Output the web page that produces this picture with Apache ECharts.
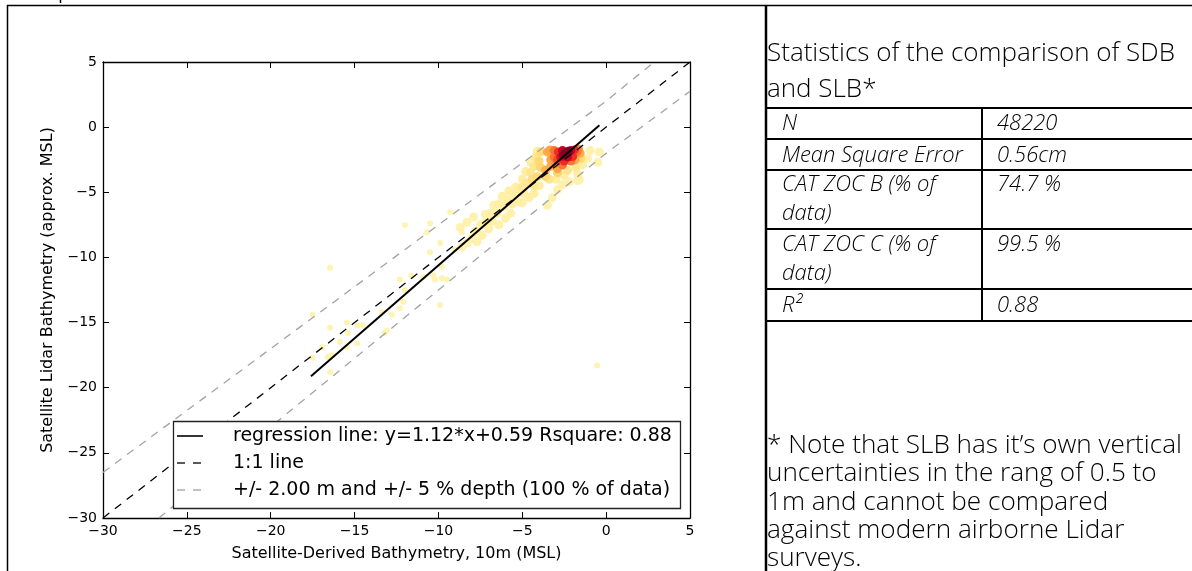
<!DOCTYPE html>
<html><head><meta charset="utf-8">
<script src="https://cdn.jsdelivr.net/npm/echarts@6/dist/echarts.min.js"></script>
<style>html,body{margin:0;padding:0;background:#fff;}#c{width:1192px;height:571px;}</style>
</head><body><div id="c"></div>
<script>
// ---------- data ----------
const xTicks = [-30, -25, -20, -15, -10, -5, 0, 5];
const yTicks = [-30, -25, -20, -15, -10, -5, 0, 5];
const xAxisTitle = 'Satellite-Derived Bathymetry, 10m (MSL)';
const yAxisTitle = 'Satellite Lidar Bathymetry (approx. MSL)';
const legendNames = ['regression line: y=1.12*x+0.59 Rsquare: 0.88', '1:1 line', '+/- 2.00 m and +/- 5 % depth (100 % of data)'];
const regressionLine = [[-17.6, -19.12], [-0.4, 0.14]];
const oneToOneLine = [[-30, -30], [5, 5]];
const upperBound = [[-30, -26.5], [0, 2], [2.86, 5]];
const lowerBound = [[-26.67, -30], [0, -2], [5, 2.75]];
// [x, y, relative density]
const densityCore = [
  [-2.4,-2.0,1.0],[-2.25,-1.85,1.0],[-2.55,-2.15,0.95],
  [-2.1,-1.8,0.85],[-2.6,-1.8,0.85],[-2.7,-2.3,0.8],[-2.3,-2.3,0.85],
  [-1.9,-1.75,0.7],[-2.85,-1.9,0.7],[-2.9,-2.5,0.65],[-2.5,-2.6,0.7],[-2.0,-2.25,0.7],
  [-1.75,-1.9,0.55],[-3.1,-1.8,0.55],[-3.1,-2.3,0.55],[-3.0,-2.8,0.5],[-2.6,-2.9,0.55],[-2.1,-2.6,0.55],[-1.65,-1.7,0.5],
  [-3.35,-1.75,0.42],[-3.3,-2.5,0.42],[-3.3,-3.0,0.4],[-2.9,-3.2,0.42],[-1.85,-2.5,0.4],[-1.55,-2.0,0.4],[-3.6,-3.3,0.38],[-3.5,-1.9,0.4]
];
const densityHalo = [
  [-3.9,-1.9,0.24],[-4.0,-2.6,0.25],[-3.9,-3.1,0.26],[-4.1,-3.8,0.24],[-3.6,-3.8,0.26],[-2.9,-3.5,0.26],[-1.5,-2.4,0.24],[-4.4,-4.0,0.22],
  [-4.2,-2.3,0.16],[-4.3,-3.0,0.17],[-4.5,-3.5,0.17],[-4.7,-4.3,0.16],[-4.3,-4.5,0.16],[-3.4,-4.0,0.17],[-2.3,-3.3,0.18],[-1.8,-3.1,0.16],[-5.0,-4.6,0.15],
  [-4.5,-2.7,0.1],[-4.8,-3.4,0.11],[-5.0,-4.0,0.11],[-5.2,-4.9,0.12],[-5.5,-5.2,0.11],[-4.9,-5.1,0.11],[-4.0,-4.5,0.12],[-3.0,-4.0,0.11],
  [-2.5,-3.7,0.11],[-1.4,-2.9,0.1],[-1.7,-3.6,0.1],[-4.1,-1.85,0.1]
];
const densityBand = [
  [-5.8,-4.9,0.1],[-5.9,-5.6,0.1],[-6.1,-6.1,0.1],[-5.6,-5.9,0.1],[-6.4,-5.9,0.09],[-6.5,-6.6,0.1],[-6.9,-6.6,0.09],[-6.8,-7.2,0.1],
  [-7.2,-7.3,0.09],[-7.0,-7.8,0.09],[-7.5,-7.5,0.08],[-7.4,-8.3,0.08],[-7.8,-8.0,0.08],[-7.7,-8.8,0.07],[-8.0,-8.5,0.07],[-5.3,-5.7,0.1],
  [-5.0,-5.8,0.09],[-4.6,-5.4,0.09],[-4.3,-5.1,0.1],[-3.5,-6.0,0.07],[-3.2,-5.4,0.07],[-2.9,-4.8,0.08],[-1.7,-4.1,0.07],[-1.1,-2.4,0.07],
  [-0.5,-2.7,0.06],[-0.4,-1.9,0.06],[-0.95,-1.8,0.07],[-1.6,-4.0,0.07],[-6.0,-7.0,0.08],[-6.4,-7.5,0.07],[-5.7,-6.6,0.08],[-8.3,-8.9,0.06],
  [-8.6,-9.2,0.06],[-8.3,-7.3,0.06],[-8.7,-7.7,0.06],[-7.9,-6.9,0.06],[-6.2,-5.3,0.08],[-6.7,-6.0,0.08],[-7.2,-6.7,0.07],[-5.4,-4.6,0.1],
  [-2.2,-4.2,0.07],[-2.6,-4.4,0.07]
];
const densitySparse = [
  [-9.3,-6.52,0.04],[-10.5,-7.37,0.04],[-12.0,-7.52,0.04],[-10.68,-8.06,0.04],[-8.6,-8.06,0.04],[-9.9,-8.9,0.04],[-10.5,-9.6,0.04],
  [-9.0,-9.4,0.04],[-9.8,-10.7,0.04],[-10.3,-11.36,0.04],[-10.9,-11.5,0.04],[-11.6,-11.4,0.04],[-9.5,-11.7,0.04],[-10.2,-11.7,0.04],
  [-12.0,-12.5,0.04],[-12.3,-11.7,0.04],[-9.9,-13.66,0.04],[-12.1,-13.4,0.04],[-12.3,-13.9,0.04],[-12.77,-14.4,0.04],[-13.36,-14.2,0.04],
  [-13.2,-15.8,0.04],[-13.07,-15.6,0.04],[-17.5,-14.4,0.04],[-16.46,-15.4,0.04],[-15.45,-15.0,0.04],[-14.85,-15.2,0.04],[-14.5,-15.2,0.04],
  [-16.94,-16.9,0.04],[-17.5,-17.7,0.04],[-15.87,-16.5,0.04],[-15.4,-15.8,0.04],[-14.85,-16.6,0.04],[-16.34,-17.5,0.04],[-16.6,-17.65,0.04],
  [-16.46,-18.8,0.04],[-15.45,-16.9,0.04],[-16.46,-10.8,0.04],[-0.54,-18.3,0.04],[-9.8,-11.6,0.04]
];
const statsTitle = ['Statistics of the comparison of SDB', 'and SLB*'];
const statsLabels = [['N'], ['Mean Square Error'], ['CAT ZOC B (% of', 'data)'], ['CAT ZOC C (% of', 'data)'], ['R\u00b2']];
const statsValues = ['48220', '0.56cm', '74.7 %', '99.5 %', '0.88'];
const noteLines = ['* Note that SLB has it\u2019s own vertical', 'uncertainties in the rang of 0.5 to', '1m and cannot be compared', 'against modern airborne Lidar', 'surveys.'];

// ---------- layout ----------
const G = {left: 103, top: 62, width: 587, height: 456};
const ctx = document.createElement('canvas').getContext('2d');
function fit(text, font, target) {
  ctx.font = font.replace('{s}', '100px');
  return 100 * target / ctx.measureText(text).width;
}
const fam = '"Open Sans", "Liberation Sans", sans-serif';
const headSize = fit(statsTitle[0], '300 {s} ' + fam, 408);
const cellSize = fit(statsLabels[1][0], 'italic 300 {s} ' + fam, 181);
const noteSize = fit(noteLines[0], '300 {s} ' + fam, 415);
const legendSize = fit(legendNames[0], '{s} "DejaVu Sans"', 439);

const graphics = [];
function hline(x1, x2, y, w, color, dash, z) {
  graphics.push({type: 'line', shape: {x1, y1: y, x2, y2: y}, z: z || 20,
    style: {stroke: color || '#000', lineWidth: w, lineDash: dash || null}});
}
function vline(x, y1, y2, w) { graphics.push({type: 'line', shape: {x1: x, y1, x2: x, y2}, style: {stroke: '#000', lineWidth: w}, z: 20}); }
function txt(t, x, baseline, size, italic) {
  graphics.push({type: 'text', x, y: baseline - 0.36 * size, z: 20,
    style: {text: t, fill: '#000', font: (italic ? 'italic ' : '') + '300 ' + size.toFixed(2) + 'px ' + fam,
      align: 'left', verticalAlign: 'middle'}});
}
// frame
hline(7, 1192, 5.5, 1.5);
vline(7.5, 5, 571, 1.5);
vline(766, 5, 571, 2.5);
vline(60.5, 0, 3, 1.5);
// legend (matplotlib-style box)
graphics.push({type: 'rect', shape: {x: 173.5, y: 421.5, width: 507, height: 87}, style: {fill: '#fff', stroke: '#222', lineWidth: 1.3}, z: 30});
const legendY = [436, 463, 490];
const legendStyles = [{c: '#000', w: 1.6, d: null}, {c: '#000', w: 1.3, d: [8, 8]}, {c: '#a3a3a3', w: 1.3, d: [8, 8]}];
legendNames.forEach((name, i) => {
  hline(177, 203, legendY[i], legendStyles[i].w, legendStyles[i].c, legendStyles[i].d, 31);
  graphics.push({type: 'text', x: 233, y: legendY[i], z: 31,
    style: {text: name, fill: '#000', font: legendSize.toFixed(2) + 'px "DejaVu Sans"', align: 'left', verticalAlign: 'middle'}});
});
// title
txt(statsTitle[0], 767, 63, headSize, false);
txt(statsTitle[1], 767, 99, headSize, false);
// table
const rowLines = [108, 139, 170, 229, 289, 321];
rowLines.forEach(y => hline(766, 1192, y, 2));
vline(982, 108, 321, 2);
const rowBase = [[131.7], [163.3], [193, 221.7], [253, 281.7], [313.3]];
statsLabels.forEach((lines, i) => {
  lines.forEach((l, j) => txt(l, 782, rowBase[i][j], cellSize, true));
  txt(statsValues[i], 997, rowBase[i][0], cellSize, true);
});
// note
const noteBase = [455, 483, 512, 540, 568];
noteLines.forEach((l, i) => txt(l, 767, noteBase[i], noteSize, false));

const minus = v => (v < 0 ? '\u2212' + (-v) : String(v));
const tickFont = {fontFamily: 'DejaVu Sans', fontSize: 14, color: '#000'};
const titleFont = {fontFamily: 'DejaVu Sans', fontSize: 16, color: '#000'};
function xAx(pos, show) {
  return {type: 'value', position: pos, min: xTicks[0], max: xTicks[xTicks.length - 1], interval: xTicks[1] - xTicks[0],
    axisLine: {show: true, onZero: false, lineStyle: {color: '#000', width: 1.3}},
    axisTick: {show: true, inside: true, length: 6, lineStyle: {color: '#000', width: 1}},
    axisLabel: Object.assign({show, margin: 6, formatter: minus}, tickFont), splitLine: {show: false},
    name: show ? xAxisTitle : '', nameLocation: 'middle', nameGap: 28, nameTextStyle: titleFont};
}
function yAx(pos, show) {
  return {type: 'value', position: pos, min: yTicks[0], max: yTicks[yTicks.length - 1], interval: yTicks[1] - yTicks[0],
    axisLine: {show: true, onZero: false, lineStyle: {color: '#000', width: 1.3}},
    axisTick: {show: true, inside: true, length: 6, lineStyle: {color: '#000', width: 1}},
    axisLabel: Object.assign({show, margin: 6, formatter: minus}, tickFont), splitLine: {show: false},
    name: show ? yAxisTitle : '', nameLocation: 'middle', nameGap: 47, nameTextStyle: titleFont};
}
const points = densitySparse.concat(densityBand, densityHalo, densityCore).slice().sort((a, b) => a[2] - b[2]);

const chart = echarts.init(document.getElementById('c'));
chart.setOption({
  animation: false,
  backgroundColor: '#fff',
  grid: Object.assign({containLabel: false}, G),
  xAxis: [xAx('bottom', true), xAx('top', false)],
  yAxis: [yAx('left', true), yAx('right', false)],
  visualMap: {show: false, type: 'continuous', dimension: 2, min: 0, max: 1, seriesIndex: 0,
    inRange: {color: ['#fff6bb', '#ffeda0', '#fed976', '#feb24c', '#fd8d3c', '#fc4e2a', '#e31a1c', '#bd0026', '#800026']}},
  graphic: {elements: graphics},
  series: [
    {type: 'scatter', data: points, symbolSize: v => (v[2] > 0.05 ? 9 : 6), itemStyle: {opacity: 1}, z: 2, silent: true},
    {type: 'line', name: legendNames[2], data: upperBound, symbol: 'none', lineStyle: {color: '#a3a3a3', width: 1.3, type: [8, 7]}, z: 3},
    {type: 'line', name: legendNames[2], data: lowerBound, symbol: 'none', lineStyle: {color: '#a3a3a3', width: 1.3, type: [8, 7]}, z: 3},
    {type: 'line', name: legendNames[1], data: oneToOneLine, symbol: 'none', lineStyle: {color: '#000', width: 1.3, type: [8, 7]}, z: 4},
    {type: 'line', name: legendNames[0], data: regressionLine, symbol: 'none', lineStyle: {color: '#000', width: 2}, z: 5}
  ]
});
</script></body></html>
